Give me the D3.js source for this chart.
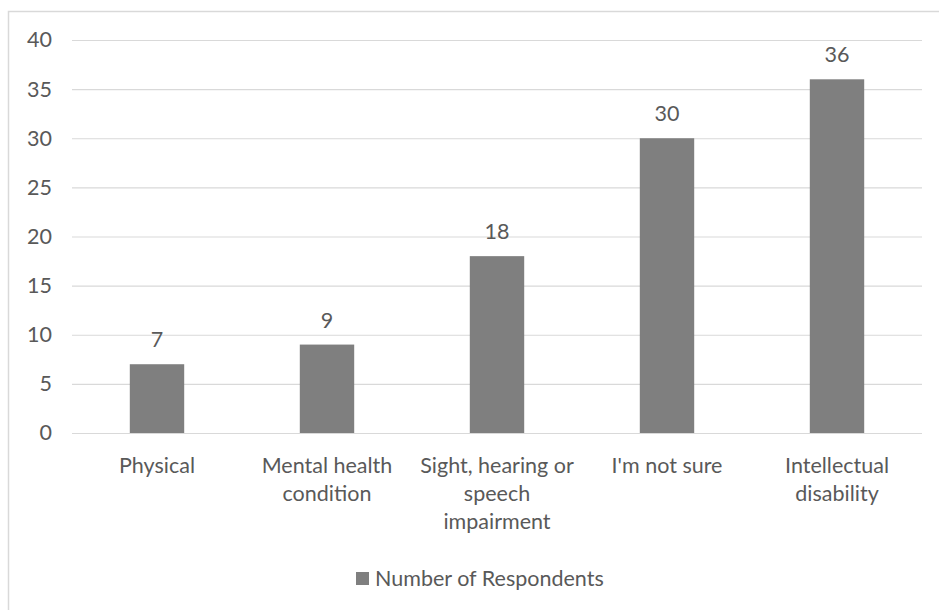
<!DOCTYPE html>
<html>
<head>
<meta charset="utf-8">
<script src="https://cdn.jsdelivr.net/npm/d3@7"></script>
<style>
    body { margin: 0; background: #fff; }
    svg text { font-family: Lato, "Open Sans", sans-serif; fill: #595959; }
</style>
</head>
<body>
<svg id="chart" width="939" height="610"></svg>
<script>
const categories = [
    ["Physical"],
    ["Mental health", "condition"],
    ["Sight, hearing or", "speech", "impairment"],
    ["I'm not sure"],
    ["Intellectual", "disability"]
];
const respondents = [7, 9, 18, 30, 36];
const yTicks = [0, 5, 10, 15, 20, 25, 30, 35, 40];
const seriesName = "Number of Respondents";

const FONT_SIZE = 21.5;

const svg = d3.select("#chart");
const margin = { top: 40, right: 17, bottom: 177, left: 72 };
const width = 939 - margin.left - margin.right;
const height = 610 - margin.top - margin.bottom;

// chart frame (right/bottom edges fall outside the picture)
svg.append("rect")
    .attr("x", 8.5)
    .attr("y", 11.5)
    .attr("width", 940)
    .attr("height", 610)
    .attr("fill", "none")
    .attr("stroke", "#d9d9d9")
    .attr("stroke-width", 1.5);

const g = svg.append("g")
    .attr("transform", `translate(${ margin.left }, ${ margin.top })`);

const x = d3.scaleBand()
    .domain(d3.range(categories.length))
    .range([0, width])
    .paddingInner(0.68)
    .paddingOuter(0.34);

const y = d3.scaleLinear()
    .domain([0, 40])
    .range([height, 0]);

const yAxis = g.append("g")
    .call(d3.axisLeft(y).tickValues(yTicks).tickSize(-width).tickPadding(20));

yAxis.select(".domain").remove();
yAxis.selectAll(".tick line")
    .attr("stroke", "#d9d9d9")
    .attr("stroke-width", 1.2);
yAxis.selectAll(".tick text")
    .attr("font-size", FONT_SIZE);

g.selectAll(".bar")
    .data(respondents)
    .enter()
    .append("rect")
    .attr("class", "bar")
    .attr("x", (d, i) => x(i))
    .attr("y", d => y(d))
    .attr("width", x.bandwidth())
    .attr("height", d => height - y(d))
    .attr("fill", "#7f7f7f");

g.selectAll(".value")
    .data(respondents)
    .enter()
    .append("text")
    .attr("class", "value")
    .attr("x", (d, i) => x(i) + x.bandwidth() / 2)
    .attr("y", d => y(d) - 25)
    .attr("text-anchor", "middle")
    .attr("dominant-baseline", "central")
    .attr("font-size", FONT_SIZE)
    .text(d => d);

const labels = g.selectAll(".cat")
    .data(categories)
    .enter()
    .append("text")
    .attr("class", "cat")
    .attr("text-anchor", "middle")
    .attr("font-size", FONT_SIZE)
    .attr("transform", (d, i) => `translate(${ x(i) + x.bandwidth() / 2 }, ${ height + 32 })`);

labels.selectAll("tspan")
    .data(d => d)
    .enter()
    .append("tspan")
    .attr("x", 0)
    .attr("y", (d, i) => i * 28)
    .attr("dominant-baseline", "central")
    .text(d => d);

const legend = svg.append("g")
    .attr("transform", "translate(356, 578)");

legend.append("rect")
    .attr("x", 0)
    .attr("y", -6)
    .attr("width", 13)
    .attr("height", 13)
    .attr("fill", "#7f7f7f");

legend.append("text")
    .attr("x", 19)
    .attr("dominant-baseline", "central")
    .attr("font-size", FONT_SIZE)
    .text(seriesName);
</script>
</body>
</html>
